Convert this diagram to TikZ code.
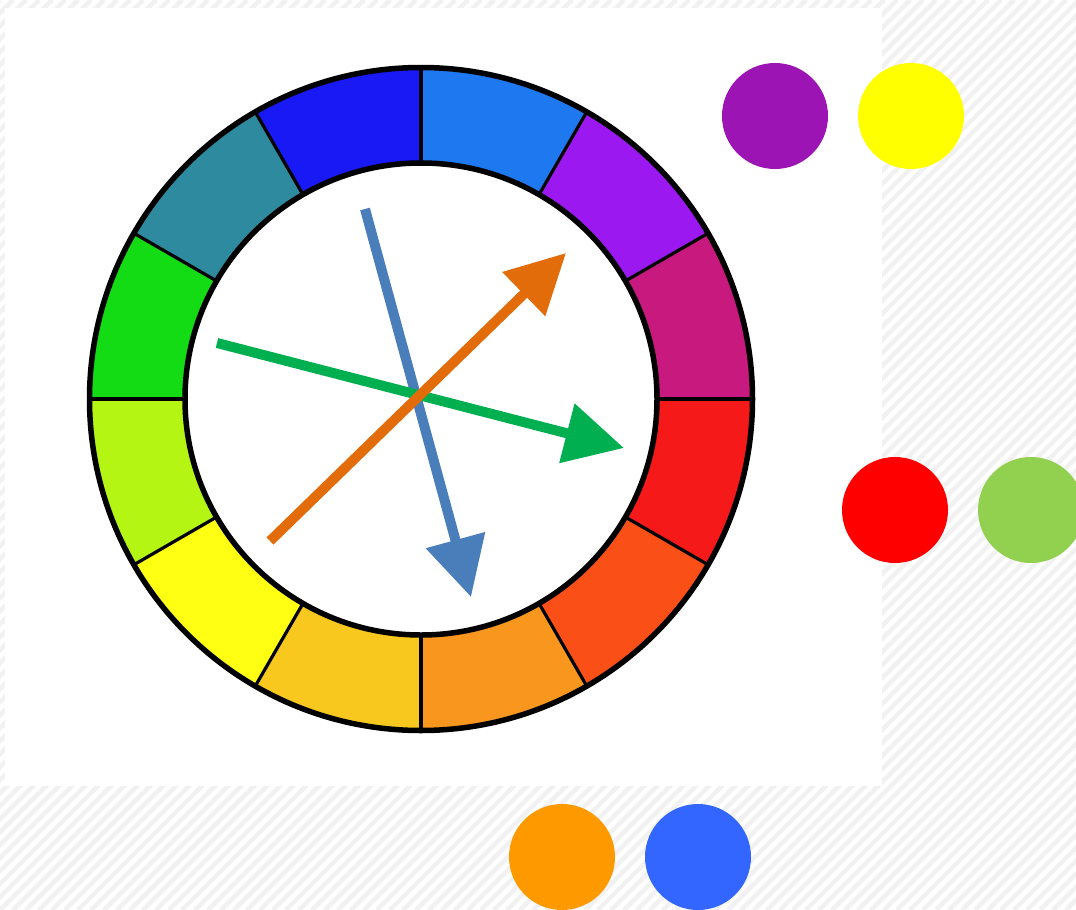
\documentclass[tikz,border=0pt]{standalone}
\usetikzlibrary{arrows.meta}
\definecolor{wMagenta}{HTML}{C8197F}
\definecolor{wViolet}{HTML}{9B19F0}
\definecolor{wAzure}{HTML}{1E78F0}
\definecolor{wBlue}{HTML}{1919F5}
\definecolor{wTeal}{HTML}{2E8A9E}
\definecolor{wGreen}{HTML}{14DC14}
\definecolor{wLime}{HTML}{B4F514}
\definecolor{wYellow}{HTML}{FFFF14}
\definecolor{wGold}{HTML}{F8C81E}
\definecolor{wOrange}{HTML}{F8961E}
\definecolor{wRedOrange}{HTML}{FA5018}
\definecolor{wRed}{HTML}{F51919}
\definecolor{arrOrange}{HTML}{E36C0A}
\definecolor{arrBlue}{HTML}{4A7EBB}
\definecolor{arrGreen}{HTML}{00B050}
\definecolor{dotPurple}{HTML}{9C14B4}
\definecolor{dotYellow}{HTML}{FFFF00}
\definecolor{dotLime}{HTML}{92D050}
\definecolor{dotOrange}{HTML}{FF9900}
\definecolor{dotBlue}{HTML}{3366FF}
\definecolor{hatch}{HTML}{F1F1F1}
\tikzset{
  dot/.style={circle, minimum size=106pt, inner sep=0pt},
  pointer/.style={line width=10pt, -{Triangle[length=59pt, width=59pt]}}
}

\begin{document}
\begin{tikzpicture}[x=1pt, y=-1pt]
	% Background and hatching:
	\useasboundingbox (0,0) rectangle (1076,910);
	\fill[white] (0,0) rectangle (1076,910);
	\begin{scope}
		\clip (0,0) rectangle (1076,910);
		\foreach \k in {-910,-897,...,1090}
			\draw[hatch, line width=4.5pt] (\k,910) -- (\k+910,0);
	\end{scope}
	\fill[white] (5,8) rectangle (882,786);
	% Colour wheel:
	\begin{scope}[shift={(421,399)}, y=1pt]
		\foreach \a/\c in {0/wMagenta, 30/wViolet, 60/wAzure, 90/wBlue, 120/wTeal, 150/wGreen,
		                   180/wLime, 210/wYellow, 240/wGold, 270/wOrange, 300/wRedOrange, 330/wRed}
			\fill[\c] (\a:234) arc[start angle=\a, end angle=\a+30, radius=234]
			  -- (\a+30:332) arc[start angle=\a+30, end angle=\a, radius=332] -- cycle;
		\foreach \a in {0,30,...,330}
			\draw[line width=3.2pt] (\a:234) -- (\a:332);
		\draw[line width=5.5pt] (0,0) circle[radius=331.5];
		\draw[line width=5.5pt] (0,0) circle[radius=236];
	\end{scope}
	% Arrows:
	\coordinate (blueTail) at (365,209);
	\coordinate (blueTip) at (471,597);
	\coordinate (greenTail) at (217,343);
	\coordinate (greenTip) at (624,448);
	\coordinate (orangeTail) at (270,541);
	\coordinate (orangeTip) at (566,253);
	\draw[pointer, arrBlue] (blueTail) -- (blueTip);
	\draw[pointer, arrGreen] (greenTail) -- (greenTip);
	\draw[pointer, arrOrange] (orangeTail) -- (orangeTip);
	% Colour pairs:
	\node[dot, fill=dotPurple] (purpleDot) at (775,116){};
	\node[dot, fill=dotYellow] (yellowDot) at (911,116){};
	\node[dot, fill=red] (redDot) at (895,510){};
	\node[dot, fill=dotLime] (limeDot) at (1031,510){};
	\node[dot, fill=dotOrange] (orangeDot) at (562,857){};
	\node[dot, fill=dotBlue] (blueDot) at (698,857){};
\end{tikzpicture}
\end{document}
